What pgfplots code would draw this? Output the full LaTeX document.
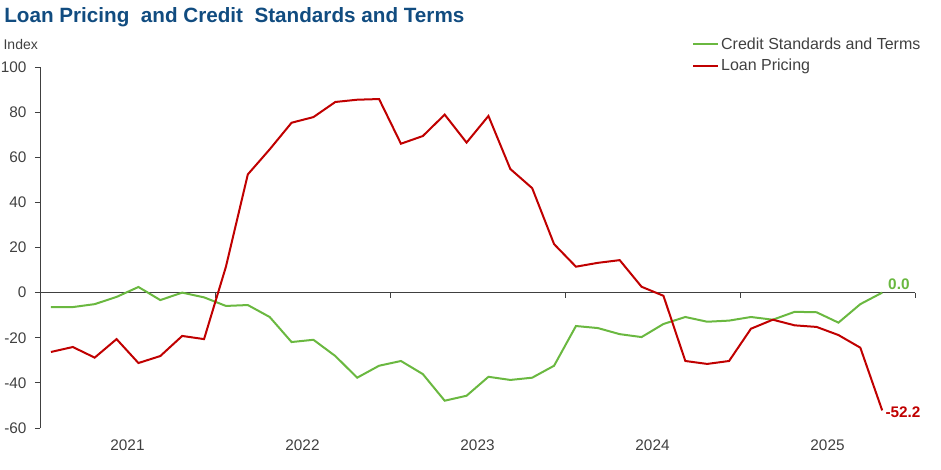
\documentclass[border=0pt]{standalone}
\usepackage{pgfplots}
\pgfplotsset{compat=1.18}
\usepackage{pgfplotstable}
\usepackage{fontspec}
\setmainfont{Liberation Sans}

\definecolor{credgreen}{RGB}{106,184,64}
\definecolor{loanred}{RGB}{192,0,0}
\definecolor{titleblue}{RGB}{17,76,128}
\definecolor{txtgray}{RGB}{64,64,64}

% survey waves, eight a year
\pgfplotstableread{
i  credit  loan
0  -6.4  -26.3
1  -6.4  -24.1
2  -5.1  -28.8
3  -1.9  -20.6
4   2.5  -31.2
5  -3.3  -28.1
6   0.0  -19.2
7  -2.1  -20.6
8  -5.9   11.5
9  -5.5   52.4
10 -10.8  63.5
11 -21.9  75.3
12 -20.9  77.8
13 -28.1  84.5
14 -37.7  85.5
15 -32.4  85.8
16 -30.3  66.0
17 -36.1  69.4
18 -47.9  78.9
19 -45.7  66.5
20 -37.3  78.3
21 -38.7  54.8
22 -37.7  46.3
23 -32.4  21.5
24 -14.8  11.5
25 -15.7  13.2
26 -18.4  14.4
27 -19.7   2.6
28 -13.9  -1.4
29 -10.8 -30.3
30 -12.9 -31.6
31 -12.4 -30.3
32 -10.8 -16.0
33 -12.0 -12.0
34  -8.5 -14.5
35  -8.7 -15.2
36 -13.3 -18.8
37  -5.1 -24.4
38   0.0 -52.2
}\datatable

\begin{document}
\begin{tikzpicture}[font=\fontsize{11.5}{13.8}\selectfont]
\useasboundingbox (-30pt,-30.75pt) rectangle (675.75pt,321pt);
\node[anchor=base west, inner sep=0pt, text=titleblue,
      font=\bfseries\fontsize{15.5}{18}\selectfont] at (-27pt,304.5pt)
  {Loan Pricing\ \ and Credit\ \ Standards and Terms};
\node[anchor=base west, inner sep=0pt, text=txtgray,
      font=\fontsize{10.5}{12.6}\selectfont] at (-27.5pt,284pt) {Index};
\begin{axis}[
    at={(0,0)}, anchor=south west,
    scale only axis, width=656.25pt, height=270.75pt,
    xmin=-0.5, xmax=39.5, ymin=-60, ymax=100,
    axis y line*=left, axis x line*=bottom,
    x axis line style={draw=none},
    y axis line style={txtgray, line width=0.75pt},
    ytick={-60,-40,...,100},
    ytick pos=left, tick align=outside,
    major tick length=3.75pt,
    y tick style={txtgray, line width=0.75pt},
    xtick={3.5,11.5,19.5,27.5,35.5},
    xticklabels={2021,2022,2023,2024,2025},
    x tick style={draw=none},
    tick label style={text=txtgray, font=\fontsize{11.5}{13.8}\selectfont},
    yticklabel style={xshift=-2.9pt},
    xticklabel style={yshift=-1.5pt},
    /pgf/number format/assume math mode=true,
    clip=false,
    legend style={at={(0.745,1.088)}, anchor=north west, draw=none, fill=none,
        inner sep=0pt, row sep=3pt, text=txtgray,
        font=\fontsize{12}{14.4}\selectfont,
        nodes={inner sep=1.5pt}},
    legend cell align=left,
    legend image code/.code={\draw[#1] (0pt,0pt) -- (18.75pt,0pt);},
]
\draw[txtgray, line width=0.9pt] (axis cs:-0.5,0) -- (axis cs:39.5,0);
\pgfplotsinvokeforeach{7.5,15.5,23.5,31.5,39.5}{
  \draw[txtgray, line width=0.75pt] (axis cs:#1,0) -- ([yshift=-3.75pt]axis cs:#1,0);
}
\addplot[credgreen, line width=1.5pt] table[x=i, y=credit] {\datatable};
\addlegendentry{Credit Standards and Terms}
\addplot[loanred, line width=1.5pt] table[x=i, y=loan] {\datatable};
\addlegendentry{Loan Pricing}
\node[anchor=west, text=credgreen, font=\bfseries\fontsize{11.5}{13.8}\selectfont,
      xshift=1pt, yshift=6pt] at (axis cs:38,0) {0.0};
\node[anchor=west, text=loanred, font=\bfseries\fontsize{11.5}{13.8}\selectfont,
      xshift=-1pt, yshift=-1.5pt] at (axis cs:38,-52.2) {-52.2};
\end{axis}
\end{tikzpicture}
\end{document}
